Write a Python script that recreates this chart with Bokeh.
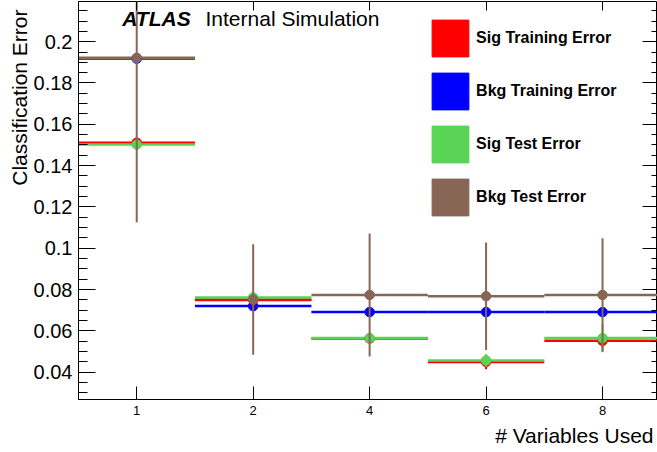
import numpy as np
from bokeh.plotting import figure
from bokeh.models import (Range1d, FixedTicker, LinearAxis, Label, Legend, LegendItem, Title,
                          ColumnDataSource, CustomJSTickFormatter)
from bokeh.embed import file_html
from bokeh.resources import INLINE

# ---- data ----
n_vars = ["1", "2", "4", "6", "8"]
sig_train = [0.1511, 0.0750, 0.0563, 0.0450, 0.0552]
sig_train_err = [0.0010, 0.0010, 0.0010, 0.0036, 0.0030]
bkg_train = [0.1918, 0.0720, 0.0691, 0.0691, 0.0691]
bkg_train_err = [0.0010, 0.0010, 0.0010, 0.0010, 0.0010]
sig_test = [0.1502, 0.0762, 0.0565, 0.0457, 0.0565]
sig_test_err = [0.0010, 0.0010, 0.0010, 0.0030, 0.0068]
bkg_test = [0.1922, 0.0752, 0.0774, 0.0768, 0.0774]
bkg_test_err = [0.0796, 0.0268, 0.0298, 0.0260, 0.0275]

series_names = ["Sig Training Error", "Bkg Training Error", "Sig Test Error", "Bkg Test Error"]
series_colors = ["#FF0000", "#0000FF", "#59D454", "#876656"]

y_ticks = [0.04, 0.06, 0.08, 0.1, 0.12, 0.14, 0.16, 0.18, 0.2]

FONT = "Liberation Sans"

pos = np.arange(1, len(n_vars) + 1, dtype=float)

p = figure(width=657, height=452, output_backend="svg", toolbar_location=None,
           x_range=Range1d(0.5, 5.472), y_range=Range1d(0.02679, 0.21945),
           min_border_left=78, min_border_right=0, min_border_top=1, min_border_bottom=53,
           background_fill_color="white", border_fill_color="white")
p.grid.visible = False
p.outline_line_color = "black"
p.outline_line_width = 1

def src(vals, errs):
    v = np.asarray(vals)
    e = np.asarray(errs)
    return ColumnDataSource(dict(x=pos, xl=pos - 0.5, xr=pos + 0.5, y=v, lo=v - e, hi=v + e))

data = {
    "sig_train": (sig_train, sig_train_err, series_colors[0]),
    "bkg_train": (bkg_train, bkg_train_err, series_colors[1]),
    "sig_test": (sig_test, sig_test_err, series_colors[2]),
    "bkg_test": (bkg_test, bkg_test_err, series_colors[3]),
}
sources = {k: src(v[0], v[1]) for k, v in data.items()}

# horizontal bin-width lines
for key in ["bkg_train", "bkg_test", "sig_train", "sig_test"]:
    c = data[key][2]
    p.segment(x0="xl", y0="y", x1="xr", y1="y", source=sources[key], line_color=c, line_width=2.5)

# vertical error bars + markers
for key in ["bkg_train", "sig_train", "sig_test", "bkg_test"]:
    c = data[key][2]
    p.segment(x0="x", y0="lo", x1="x", y1="hi", source=sources[key], line_color=c, line_width=2)
    p.scatter(x="x", y="y", source=sources[key], size=9.5, fill_color=c, line_color=c)

# legend with filled boxes
items = []
for name, c in zip(series_names, series_colors):
    r = p.quad(left=[np.nan], right=[np.nan], top=[np.nan], bottom=[np.nan],
               fill_color=c, line_color=c)
    items.append(LegendItem(label=name, renderers=[r]))
legend = Legend(items=items, location=(349.1, 178.9), padding=0, margin=0, spacing=7,
                glyph_width=46, glyph_height=46, label_standoff=3,
                label_text_font=FONT, label_text_font_style="bold", label_text_font_size="16px",
                label_text_color="black", label_text_baseline="middle",
                border_line_color=None, background_fill_alpha=0)
p.add_layout(legend)

# bottom axis
xa = p.xaxis[0]
xa.ticker = FixedTicker(ticks=list(pos), minor_ticks=[])
xa.formatter = CustomJSTickFormatter(args=dict(labels=n_vars),
                                     code="return labels[Math.round(tick) - 1] || ''")
xa.major_tick_in = 13
xa.major_tick_out = 0
xa.minor_tick_in = 0
xa.minor_tick_out = 0
xa.major_label_standoff = 6
xa.major_label_text_font = FONT
xa.major_label_text_font_size = "13px"
xa.major_label_text_color = "black"
xa.axis_line_color = "black"
xa.major_tick_line_color = "black"

# left axis
minor_y = [round(0.025 + 0.005 * i, 3) for i in range(40)]
ya = p.yaxis[0]
ya.ticker = FixedTicker(ticks=y_ticks, minor_ticks=minor_y)
ya.formatter = CustomJSTickFormatter(code="return String(parseFloat(tick.toFixed(3)))")
ya.major_tick_in = 17
ya.major_tick_out = 0
ya.minor_tick_in = 9
ya.minor_tick_out = 0
ya.major_label_standoff = 6
ya.major_label_text_font = FONT
ya.major_label_text_font_size = "20px"
ya.major_label_text_color = "black"
ya.axis_line_color = "black"
ya.major_tick_line_color = "black"
ya.minor_tick_line_color = "black"

blank = CustomJSTickFormatter(code="return ''")

# right axis (ticks only)
ra = LinearAxis(ticker=FixedTicker(ticks=y_ticks, minor_ticks=minor_y), formatter=blank,
                major_label_text_font_size="1px", major_label_standoff=0,
                major_tick_in=15, major_tick_out=0, minor_tick_in=6, minor_tick_out=0,
                axis_line_color=None, major_tick_line_color="black", minor_tick_line_color="black")
p.add_layout(ra, "right")

# top axis (ticks only)
ta = LinearAxis(ticker=FixedTicker(ticks=list(pos), minor_ticks=[]), formatter=blank,
                major_label_text_font_size="1px", major_label_standoff=0,
                major_tick_in=9, major_tick_out=0, minor_tick_in=0, minor_tick_out=0,
                axis_line_color=None, major_tick_line_color="black")
p.add_layout(ta, "above")

# axis titles
p.add_layout(Title(text="Classification Error", align="right", text_font=FONT,
                   text_font_size="21px", text_font_style="normal", text_color="black",
                   standoff=0, offset=8), "left")
p.add_layout(Title(text="# Variables Used", align="right", text_font=FONT,
                   text_font_size="21px", text_font_style="normal", text_color="black",
                   standoff=8, offset=4), "below")

# in-frame texts
p.add_layout(Label(x=43.7, y=381, x_units="screen", y_units="screen", text="ATLAS",
                   text_align="left", text_baseline="alphabetic", text_font_style="bold italic",
                   text_font=FONT, text_font_size="21px", text_color="black"))
p.add_layout(Label(x=127, y=381, x_units="screen", y_units="screen", text="Internal Simulation",
                   text_align="left", text_baseline="alphabetic",
                   text_font=FONT, text_font_size="21px", text_color="black"))

open("out.html", "w").write(file_html(p, INLINE))
